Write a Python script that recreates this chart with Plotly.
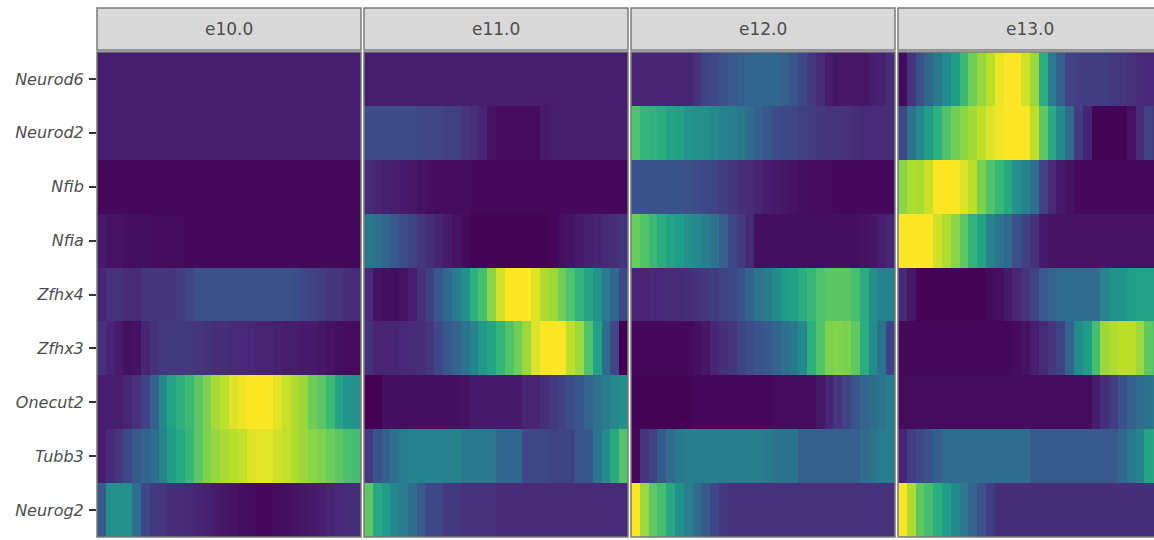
import plotly.graph_objects as go

W, H = 1154, 540

GENES = ["Neurod6", "Neurod2", "Nfib", "Nfia", "Zfhx4", "Zfhx3", "Onecut2", "Tubb3", "Neurog2"]
STAGES = ["e10.0", "e11.0", "e12.0", "e13.0"]
BINS = list(range(30))

# scaled expression per gene (rows follow GENES) along 30 pseudotime bins
E10 = [
    [0.08] * 30,
    [0.08] * 30,
    [0.02] * 30,
    [0.07, 0.05, 0.05, 0.04, 0.04, 0.04, 0.03, 0.03, 0.03, 0.03, 0.02, 0.02, 0.02, 0.02, 0.02,
     0.02, 0.02, 0.02, 0.02, 0.02, 0.02, 0.02, 0.02, 0.02, 0.02, 0.02, 0.02, 0.02, 0.02, 0.02],
    [0.10, 0.14, 0.14, 0.12, 0.12, 0.16, 0.16, 0.16, 0.15, 0.18, 0.22, 0.25, 0.25, 0.25, 0.25,
     0.25, 0.25, 0.25, 0.25, 0.25, 0.25, 0.25, 0.24, 0.22, 0.20, 0.18, 0.16, 0.15, 0.13, 0.12],
    [0.14, 0.10, 0.07, 0.04, 0.05, 0.10, 0.14, 0.17, 0.17, 0.17, 0.17, 0.15, 0.14, 0.13, 0.13,
     0.12, 0.11, 0.11, 0.10, 0.10, 0.09, 0.08, 0.08, 0.07, 0.07, 0.06, 0.05, 0.04, 0.03, 0.03],
    [0.08, 0.08, 0.08, 0.10, 0.14, 0.20, 0.30, 0.48, 0.57, 0.63, 0.68, 0.74, 0.80, 0.86, 0.90,
     0.95, 0.98, 1.00, 1.00, 1.00, 0.96, 0.92, 0.88, 0.85, 0.78, 0.74, 0.68, 0.58, 0.52, 0.50],
    [0.08, 0.12, 0.16, 0.22, 0.28, 0.32, 0.36, 0.45, 0.55, 0.60, 0.67, 0.74, 0.80, 0.84, 0.87,
     0.89, 0.91, 0.95, 0.96, 0.96, 0.93, 0.91, 0.88, 0.85, 0.82, 0.80, 0.77, 0.74, 0.71, 0.70],
    [0.28, 0.50, 0.50, 0.50, 0.36, 0.22, 0.17, 0.15, 0.13, 0.12, 0.11, 0.10, 0.09, 0.07, 0.06,
     0.05, 0.04, 0.03, 0.02, 0.02, 0.03, 0.04, 0.05, 0.06, 0.07, 0.08, 0.10, 0.11, 0.12, 0.13],
]

E11 = [
    [0.08] * 30,
    [0.23, 0.23, 0.23, 0.23, 0.23, 0.23, 0.22, 0.21, 0.21, 0.19, 0.19, 0.15, 0.13, 0.10, 0.05,
     0.03, 0.03, 0.03, 0.03, 0.03, 0.07, 0.08, 0.08, 0.08, 0.08, 0.08, 0.08, 0.08, 0.08, 0.08],
    [0.12, 0.10, 0.09, 0.08, 0.07, 0.06, 0.05, 0.04, 0.03, 0.03, 0.03, 0.03, 0.02, 0.02, 0.02,
     0.02, 0.02, 0.02, 0.02, 0.02, 0.02, 0.02, 0.02, 0.02, 0.02, 0.02, 0.02, 0.02, 0.02, 0.02],
    [0.40, 0.37, 0.33, 0.28, 0.24, 0.20, 0.16, 0.13, 0.10, 0.07, 0.05, 0.03, 0.01, 0.01, 0.01,
     0.01, 0.01, 0.01, 0.01, 0.01, 0.01, 0.02, 0.04, 0.05, 0.07, 0.09, 0.10, 0.12, 0.13, 0.15],
    [0.12, 0.05, 0.04, 0.04, 0.05, 0.08, 0.14, 0.20, 0.27, 0.34, 0.42, 0.50, 0.63, 0.70, 0.82,
     0.93, 1.00, 1.00, 1.00, 0.95, 0.88, 0.85, 0.78, 0.72, 0.65, 0.58, 0.50, 0.42, 0.33, 0.22],
    [0.14, 0.10, 0.10, 0.10, 0.11, 0.12, 0.13, 0.16, 0.22, 0.28, 0.32, 0.38, 0.45, 0.53, 0.58,
     0.66, 0.72, 0.78, 0.85, 0.95, 1.00, 1.00, 1.00, 0.90, 0.85, 0.72, 0.57, 0.35, 0.22, 0.00],
    [0.00, 0.00, 0.04, 0.04, 0.04, 0.04, 0.04, 0.04, 0.04, 0.04, 0.04, 0.05, 0.07, 0.07, 0.07,
     0.07, 0.07, 0.07, 0.10, 0.10, 0.13, 0.17, 0.20, 0.24, 0.27, 0.32, 0.37, 0.42, 0.47, 0.50],
    [0.17, 0.25, 0.30, 0.37, 0.42, 0.45, 0.45, 0.45, 0.45, 0.45, 0.45, 0.40, 0.40, 0.40, 0.40,
     0.33, 0.33, 0.33, 0.22, 0.22, 0.22, 0.20, 0.20, 0.20, 0.27, 0.27, 0.38, 0.48, 0.60, 0.73],
    [0.75, 0.60, 0.55, 0.47, 0.42, 0.35, 0.28, 0.22, 0.22, 0.17, 0.17, 0.14, 0.14, 0.14, 0.14,
     0.12, 0.12, 0.12, 0.12, 0.12, 0.12, 0.12, 0.12, 0.12, 0.12, 0.12, 0.12, 0.12, 0.12, 0.12],
]

E12 = [
    [0.10, 0.10, 0.10, 0.10, 0.10, 0.10, 0.10, 0.14, 0.20, 0.22, 0.25, 0.28, 0.30, 0.32, 0.33,
     0.33, 0.33, 0.30, 0.27, 0.22, 0.17, 0.12, 0.07, 0.06, 0.06, 0.06, 0.06, 0.08, 0.09, 0.12],
    [0.72, 0.66, 0.64, 0.62, 0.58, 0.57, 0.52, 0.50, 0.50, 0.47, 0.45, 0.43, 0.40, 0.35, 0.30,
     0.27, 0.23, 0.22, 0.22, 0.19, 0.18, 0.16, 0.15, 0.15, 0.14, 0.13, 0.12, 0.12, 0.12, 0.12],
    [0.26, 0.26, 0.26, 0.26, 0.26, 0.26, 0.25, 0.23, 0.22, 0.21, 0.18, 0.16, 0.13, 0.12, 0.10,
     0.08, 0.07, 0.06, 0.05, 0.04, 0.03, 0.03, 0.03, 0.02, 0.02, 0.02, 0.02, 0.02, 0.02, 0.02],
    [0.77, 0.72, 0.68, 0.62, 0.58, 0.55, 0.50, 0.47, 0.43, 0.38, 0.30, 0.22, 0.18, 0.12, 0.04,
     0.04, 0.04, 0.04, 0.04, 0.04, 0.04, 0.04, 0.04, 0.04, 0.04, 0.04, 0.05, 0.06, 0.08, 0.10],
    [0.10, 0.10, 0.11, 0.11, 0.12, 0.12, 0.13, 0.14, 0.16, 0.18, 0.20, 0.22, 0.26, 0.32, 0.38,
     0.42, 0.48, 0.55, 0.57, 0.62, 0.67, 0.72, 0.74, 0.74, 0.74, 0.70, 0.62, 0.50, 0.45, 0.45],
    [0.02, 0.02, 0.02, 0.02, 0.02, 0.02, 0.02, 0.04, 0.06, 0.10, 0.13, 0.15, 0.20, 0.23, 0.26,
     0.28, 0.32, 0.36, 0.40, 0.47, 0.63, 0.72, 0.80, 0.81, 0.80, 0.75, 0.62, 0.48, 0.38, 0.20],
    [0.01, 0.01, 0.01, 0.01, 0.01, 0.01, 0.01, 0.02, 0.02, 0.02, 0.02, 0.02, 0.02, 0.02, 0.02,
     0.02, 0.03, 0.03, 0.03, 0.03, 0.03, 0.06, 0.10, 0.15, 0.20, 0.27, 0.32, 0.35, 0.38, 0.42],
    [0.02, 0.15, 0.20, 0.28, 0.35, 0.40, 0.43, 0.43, 0.43, 0.43, 0.43, 0.43, 0.43, 0.43, 0.43,
     0.40, 0.38, 0.38, 0.38, 0.30, 0.30, 0.30, 0.30, 0.30, 0.30, 0.30, 0.35, 0.38, 0.42, 0.42],
    [1.00, 0.85, 0.75, 0.70, 0.60, 0.50, 0.43, 0.35, 0.28, 0.22, 0.17, 0.14, 0.14, 0.14, 0.14,
     0.14, 0.14, 0.14, 0.14, 0.14, 0.14, 0.14, 0.14, 0.14, 0.14, 0.14, 0.14, 0.14, 0.14, 0.14],
]

E13 = [
    [0.03, 0.15, 0.25, 0.32, 0.40, 0.48, 0.55, 0.68, 0.78, 0.84, 0.90, 0.97, 1.00, 1.00, 0.93,
     0.85, 0.62, 0.42, 0.30, 0.20, 0.18, 0.18, 0.18, 0.18, 0.17, 0.16, 0.14, 0.12, 0.11, 0.11],
    [0.22, 0.38, 0.47, 0.55, 0.63, 0.72, 0.78, 0.82, 0.86, 0.90, 0.95, 0.98, 1.00, 1.00, 1.00,
     0.90, 0.75, 0.60, 0.48, 0.35, 0.18, 0.10, 0.01, 0.01, 0.01, 0.01, 0.05, 0.12, 0.20, 0.15],
    [0.82, 0.88, 0.87, 0.92, 1.00, 1.00, 1.00, 0.95, 0.90, 0.80, 0.72, 0.67, 0.60, 0.50, 0.45,
     0.36, 0.20, 0.12, 0.07, 0.05, 0.02, 0.02, 0.02, 0.02, 0.02, 0.02, 0.02, 0.02, 0.02, 0.02],
    [1.00, 1.00, 1.00, 1.00, 0.93, 0.88, 0.82, 0.75, 0.65, 0.58, 0.45, 0.38, 0.33, 0.25, 0.20,
     0.14, 0.07, 0.05, 0.05, 0.05, 0.05, 0.05, 0.05, 0.05, 0.05, 0.05, 0.05, 0.05, 0.05, 0.05],
    [0.12, 0.06, 0.01, 0.01, 0.01, 0.01, 0.01, 0.01, 0.01, 0.01, 0.03, 0.04, 0.07, 0.10, 0.15,
     0.20, 0.28, 0.32, 0.35, 0.35, 0.35, 0.35, 0.35, 0.45, 0.50, 0.52, 0.56, 0.57, 0.57, 0.57],
    [0.02, 0.02, 0.02, 0.02, 0.02, 0.02, 0.02, 0.02, 0.02, 0.02, 0.02, 0.02, 0.02, 0.03, 0.05,
     0.08, 0.12, 0.16, 0.20, 0.32, 0.48, 0.55, 0.70, 0.85, 0.88, 0.90, 0.90, 0.85, 0.75, 0.70],
    [0.03, 0.03, 0.03, 0.03, 0.03, 0.03, 0.03, 0.03, 0.03, 0.03, 0.03, 0.03, 0.03, 0.03, 0.03,
     0.03, 0.03, 0.03, 0.03, 0.03, 0.03, 0.03, 0.08, 0.13, 0.18, 0.25, 0.30, 0.35, 0.38, 0.40],
    [0.10, 0.18, 0.22, 0.25, 0.30, 0.35, 0.35, 0.35, 0.35, 0.35, 0.35, 0.35, 0.35, 0.35, 0.35,
     0.28, 0.28, 0.28, 0.28, 0.28, 0.28, 0.28, 0.28, 0.28, 0.28, 0.33, 0.40, 0.45, 0.58, 0.60],
    [1.00, 0.88, 0.75, 0.70, 0.62, 0.55, 0.48, 0.40, 0.32, 0.25, 0.18, 0.13, 0.13, 0.13, 0.13,
     0.13, 0.13, 0.13, 0.13, 0.13, 0.13, 0.13, 0.13, 0.13, 0.13, 0.13, 0.13, 0.13, 0.13, 0.13],
]

PANELS = [E10, E11, E12, E13]

# panel geometry in pixels
PANEL_LEFT = [97, 364, 631, 898]
PANEL_W = 264
PANEL_TOP, PANEL_BOTTOM = 52, 537
STRIP_TOP, STRIP_BOTTOM = 8, 50
TEXT_COLOR = "#4D4D4D"
BORDER = "#7A7A7A"
FONT = "DejaVu Sans"


def px(x):
    return x / W


def py(y):
    return (H - y) / H


fig = go.Figure()
cell = PANEL_W / len(BINS)
shapes, annotations = [], []

for i, (stage, z) in enumerate(zip(STAGES, PANELS)):
    n = "" if i == 0 else str(i + 1)
    left = PANEL_LEFT[i]
    right = min(left + PANEL_W, W)
    fig.add_trace(go.Heatmap(
        z=z, x=BINS, y=GENES, colorscale="Viridis", zmin=0, zmax=1,
        showscale=False, xaxis="x" + n, yaxis="y" + n, hoverinfo="skip",
    ))
    visible_bins = (right - left) / cell
    fig.layout["xaxis" + n] = dict(
        domain=[px(left), px(right)], range=[-0.5, -0.5 + visible_bins],
        showticklabels=False, ticks="", showgrid=False, zeroline=False,
        anchor="y" + n,
    )
    fig.layout["yaxis" + n] = dict(
        domain=[py(PANEL_BOTTOM), py(PANEL_TOP)], autorange="reversed",
        showticklabels=(i == 0), ticks="outside" if i == 0 else "",
        ticklen=7, tickwidth=1.5, tickcolor="#333333", ticklabelstandoff=2,
        tickfont=dict(family=FONT, size=16, color=TEXT_COLOR, style="italic"),
        showgrid=False, zeroline=False, anchor="x" + n,
    )
    # panel border
    shapes.append(dict(type="rect", xref="paper", yref="paper",
                       x0=px(left), x1=px(left + PANEL_W), y0=py(PANEL_BOTTOM), y1=py(PANEL_TOP),
                       line=dict(color=BORDER, width=1.5), fillcolor="rgba(0,0,0,0)", layer="above"))
    # facet strip
    shapes.append(dict(type="rect", xref="paper", yref="paper",
                       x0=px(left), x1=px(left + PANEL_W), y0=py(STRIP_BOTTOM), y1=py(STRIP_TOP),
                       line=dict(color=BORDER, width=1.5), fillcolor="#D9D9D9", layer="above"))
    annotations.append(dict(text=stage, xref="paper", yref="paper",
                            x=px(left + PANEL_W / 2), y=py((STRIP_TOP + STRIP_BOTTOM) / 2),
                            showarrow=False, xanchor="center", yanchor="middle",
                            font=dict(family=FONT, size=17, color=TEXT_COLOR)))

fig.update_layout(
    width=W, height=H, margin=dict(l=0, r=0, t=0, b=0),
    paper_bgcolor="white", plot_bgcolor="white",
    shapes=shapes, annotations=annotations, showlegend=False,
)

fig.write_html("out.html")
